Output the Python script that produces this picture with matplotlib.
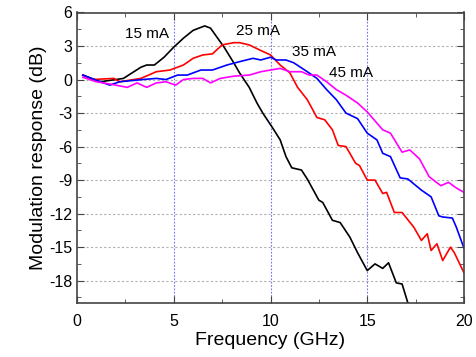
import matplotlib.pyplot as plt
import numpy as np

plt.rcParams['font.family'] = ['Liberation Sans', 'DejaVu Sans']

# 15 mA
f15 = [0.3, 1.2, 2.4, 3.3, 3.6, 4.0, 4.5, 5.0, 5.5, 6.0, 6.6, 6.9, 7.6, 8.1, 8.4, 8.9,
       9.3, 9.6, 10.1, 10.5, 10.8, 11.1, 11.6, 11.9, 12.5, 12.7, 13.2, 13.6, 14.1, 14.5,
       15.0, 15.4, 15.8, 16.1, 16.5, 16.8, 17.1]
r15 = [0.4, -0.2, 0.1, 1.1, 1.3, 1.3, 2.0, 2.9, 3.7, 4.4, 4.8, 4.6, 2.9, 1.5, 0.6, -0.7,
       -2.1, -3.0, -4.3, -5.4, -6.9, -7.9, -8.1, -8.9, -10.8, -11.0, -12.6, -12.8, -14.1, -15.5,
       -17.1, -16.5, -16.9, -16.4, -18.2, -18.3, -20.0]

# 25 mA
f25 = [0.3, 0.8, 1.9, 2.2, 3.3, 4.1, 4.8, 5.5, 6.0, 6.5, 7.0, 7.5, 8.1, 8.4, 8.9, 9.5,
       10.0, 10.5, 11.0, 11.4, 11.9, 12.4, 12.8, 13.2, 13.5, 13.9, 14.4, 14.6, 15.0, 15.4,
       15.8, 16.0, 16.4, 16.8, 17.4, 17.8, 18.1, 18.3, 18.6, 18.9, 19.3, 19.5, 20.0]
r25 = [0.4, 0.0, 0.1, -0.2, 0.1, 0.7, 0.85, 1.3, 1.9, 2.2, 2.3, 3.1, 3.3, 3.3, 3.1, 2.6,
       2.2, 1.3, 0.6, -0.7, -1.8, -3.4, -3.6, -4.5, -5.9, -6.0, -7.5, -7.7, -9.0, -9.0,
       -10.2, -10.1, -11.9, -11.9, -13.2, -14.4, -13.8, -15.3, -14.7, -16.2, -15.0, -15.5, -17.3]

# 35 mA
f35 = [0.3, 1.2, 1.7, 2.2, 3.4, 4.1, 4.6, 5.2, 5.7, 6.4, 7.0, 7.75, 8.4, 9.1, 9.5, 10.0,
       10.3, 10.8, 11.2, 11.9, 12.4, 12.9, 13.4, 13.9, 14.5, 15.0, 15.5, 15.8, 16.2, 16.7,
       17.1, 17.8, 18.3, 18.7, 18.9, 19.4, 19.6, 20.0]
r35 = [0.4, -0.2, -0.5, -0.2, 0.0, 0.1, 0.0, 0.4, 0.4, 0.85, 0.85, 1.3, 1.6, 1.9, 1.75, 2.0,
       1.75, 1.75, 1.5, 0.7, 0.1, -0.9, -1.8, -3.0, -3.5, -4.8, -5.4, -6.6, -6.9, -8.8,
       -8.9, -9.9, -10.5, -12.2, -12.3, -12.4, -13.2, -15.1]

# 45 mA
f45 = [0.3, 1.0, 1.7, 2.6, 3.1, 3.6, 4.1, 4.6, 5.1, 5.5, 6.0, 6.5, 6.9, 7.4, 8.1, 8.9,
       9.5, 10.0, 10.5, 11.0, 11.6, 12.0, 12.4, 12.9, 13.4, 13.9, 14.5, 15.0, 15.3, 15.8,
       16.2, 16.8, 17.2, 17.7, 18.2, 18.8, 19.2, 19.6, 20.0]
r45 = [0.2, -0.2, -0.4, -0.7, -0.3, -0.7, -0.3, -0.2, -0.5, 0.0, 0.1, 0.1, -0.3, 0.1, 0.3, 0.4,
       0.7, 0.85, 1.0, 0.7, 0.7, 0.4, 0.4, -0.2, -0.9, -1.4, -2.1, -2.9, -3.5, -4.5,
       -4.8, -6.5, -6.3, -7.1, -8.7, -9.5, -9.2, -9.7, -10.1]

series = [(f15, r15, 'black', '15 mA', 3.6, 4.1),
          (f25, r25, 'red', '25 mA', 9.35, 4.3),
          (f35, r35, 'blue', '35 mA', 12.25, 2.5),
          (f45, r45, 'magenta', '45 mA', 14.15, 0.6)]

fig = plt.figure(figsize=(4.77, 3.57), dpi=100)
ax = fig.add_axes([77 / 477, 1 - 303 / 357, 387 / 477, 290.5 / 357])

for y in [-18, -15, -12, -9, -6, -3, 0, 3]:
    ax.axhline(y, color='#b0b0b0', lw=0.8, ls=(0, (2, 2)), zorder=0)
for x in [5, 10, 15]:
    ax.axvline(x, color='#7070ff', lw=0.8, ls=(0, (1.5, 1.5)), zorder=0)

for f, r, c, lab, tx, ty in series:
    ax.plot(f, r, color=c, lw=1.2)
    ax.text(tx, ty, lab, fontsize=11, ha='center', va='center')

ax.set_xlim(0, 20)
ax.set_ylim(-20, 6)
ax.set_xticks([0, 5, 10, 15, 20])
ax.set_xticks(np.arange(0, 20.1, 2.5), minor=True)
ax.set_yticks([-18, -15, -12, -9, -6, -3, 0, 3, 6])
ax.set_yticks(np.arange(-19.5, 6.1, 1.5), minor=True)
ax.set_yticklabels(['-18', '-15', '-12', '-9', '-6', '-3', '0', '3', '6'])
ax.tick_params(direction='in', which='both', top=True, right=True, labelsize=11.5,
               color='#444444')
ax.tick_params(axis='x', which='major', pad=8)
ax.tick_params(which='major', length=5)
ax.tick_params(which='minor', length=3)
for s in ax.spines.values():
    s.set_color('#444444')
    s.set_linewidth(1.2)

ax.set_xlabel('Frequency (GHz)', fontsize=14, labelpad=2)
ax.set_ylabel('Modulation response (dB)', fontsize=14, labelpad=1)

fig.savefig('out.png', dpi=100)
